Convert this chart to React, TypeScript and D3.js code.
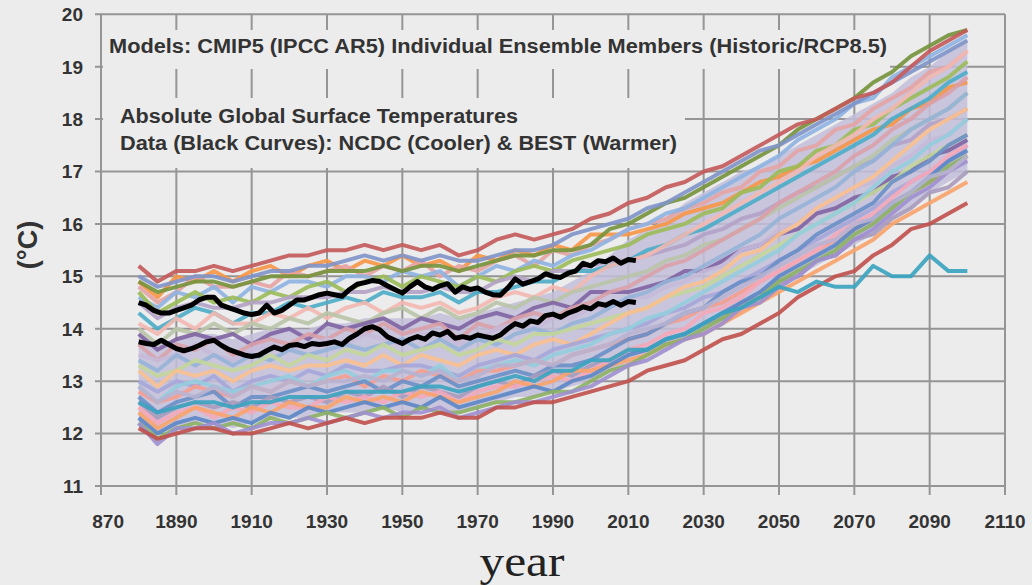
import React from "react";
import * as d3 from "d3";

// years of the model runs (historic + RCP8.5), 5-year steps
const modelYears = [1880, 1885, 1890, 1895, 1900, 1905, 1910, 1915, 1920, 1925, 1930, 1935, 1940, 1945, 1950, 1955, 1960, 1965, 1970, 1975, 1980, 1985, 1990, 1995, 2000, 2005, 2010, 2015, 2020, 2025, 2030, 2035, 2040, 2045, 2050, 2055, 2060, 2065, 2070, 2075, 2080, 2085, 2090, 2095, 2100];

// years of the observed data (2-year steps)
const obsYears = [1880, 1882, 1884, 1886, 1888, 1890, 1892, 1894, 1896, 1898, 1900, 1902, 1904, 1906, 1908, 1910, 1912, 1914, 1916, 1918, 1920, 1922, 1924, 1926, 1928, 1930, 1932, 1934, 1936, 1938, 1940, 1942, 1944, 1946, 1948, 1950, 1952, 1954, 1956, 1958, 1960, 1962, 1964, 1966, 1968, 1970, 1972, 1974, 1976, 1978, 1980, 1982, 1984, 1986, 1988, 1990, 1992, 1994, 1996, 1998, 2000, 2002, 2004, 2006, 2008, 2010, 2012];

const best = [14.5, 14.45, 14.35, 14.3, 14.3, 14.35, 14.4, 14.45, 14.55, 14.6, 14.6, 14.45, 14.4, 14.35, 14.3, 14.27, 14.3, 14.45, 14.3, 14.35, 14.45, 14.55, 14.55, 14.6, 14.65, 14.68, 14.65, 14.62, 14.75, 14.85, 14.88, 14.92, 14.9, 14.82, 14.75, 14.68, 14.8, 14.9, 14.8, 14.75, 14.82, 14.86, 14.7, 14.8, 14.75, 14.78, 14.7, 14.65, 14.64, 14.78, 14.95, 14.85, 14.9, 14.95, 15.05, 15.0, 14.98, 15.06, 15.1, 15.25, 15.2, 15.3, 15.28, 15.35, 15.25, 15.32, 15.3];
const ncdc = [13.75, 13.72, 13.7, 13.78, 13.7, 13.62, 13.58, 13.62, 13.68, 13.75, 13.78, 13.68, 13.6, 13.55, 13.5, 13.47, 13.5, 13.58, 13.65, 13.6, 13.68, 13.7, 13.66, 13.72, 13.7, 13.72, 13.75, 13.7, 13.82, 13.9, 14.0, 14.04, 13.98, 13.85, 13.78, 13.72, 13.8, 13.85, 13.8, 13.92, 13.88, 13.95, 13.82, 13.85, 13.82, 13.88, 13.85, 13.82, 13.88, 14.0, 14.1, 14.05, 14.15, 14.12, 14.25, 14.28, 14.22, 14.3, 14.35, 14.42, 14.38, 14.48, 14.45, 14.52, 14.45, 14.52, 14.5];

// dense part of the ensemble (pale backdrop)
const bandLow = [12.2, 12.0, 12.1, 12.2, 12.2, 12.1, 12.2, 12.3, 12.3, 12.3, 12.4, 12.4, 12.4, 12.5, 12.4, 12.5, 12.5, 12.4, 12.5, 12.6, 12.7, 12.7, 12.8, 12.9, 13.0, 13.2, 13.3, 13.5, 13.6, 13.8, 13.9, 14.1, 14.3, 14.5, 14.7, 15.0, 15.2, 15.4, 15.6, 15.8, 16.1, 16.3, 16.6, 16.8, 17.0];
const bandHigh = [13.9, 13.7, 13.8, 13.9, 13.9, 13.8, 13.9, 14.0, 14.0, 14.0, 14.1, 14.1, 14.2, 14.2, 14.2, 14.2, 14.3, 14.2, 14.3, 14.4, 14.5, 14.6, 14.7, 14.9, 15.1, 15.4, 15.7, 15.9, 16.1, 16.4, 16.6, 16.8, 17.0, 17.1, 17.3, 17.5, 17.7, 17.9, 18.1, 18.3, 18.5, 18.8, 19.0, 19.3, 19.5];

// individual ensemble members
const m03 = [14.9, 14.6, 15.0, 14.9, 15.1, 14.9, 15.1, 15.2, 15.0, 15.2, 15.3, 15.1, 15.3, 15.2, 15.4, 15.2, 15.3, 15.1, 15.4, 15.3, 15.5, 15.4, 15.6, 15.5, 15.8, 15.8, 15.8, 15.9, 16.0, 16.2, 16.3, 16.4, 16.6, 16.8, 16.9, 17.1, 17.2, 17.4, 17.6, 17.8, 17.9, 18.2, 18.3, 18.6, 18.7];
const m04 = [14.8, 14.5, 14.7, 15.0, 14.8, 14.8, 14.9, 14.8, 15.1, 15.0, 15.1, 15.2, 15.0, 15.2, 15.1, 15.3, 15.0, 15.2, 15.1, 15.3, 15.4, 15.2, 15.5, 15.4, 15.6, 15.7, 15.9, 16.0, 16.1, 16.3, 16.4, 16.6, 16.7, 17.0, 17.1, 17.4, 17.5, 17.8, 17.9, 18.2, 18.4, 18.6, 18.9, 19.0, 19.3];
const m05 = [14.6, 14.4, 14.7, 14.6, 14.8, 14.5, 14.8, 14.7, 14.9, 14.9, 14.8, 15.0, 15.0, 14.9, 15.1, 15.0, 15.1, 14.8, 15.0, 15.2, 15.1, 15.3, 15.2, 15.4, 15.5, 15.7, 15.9, 16.0, 16.2, 16.3, 16.5, 16.7, 16.9, 17.1, 17.3, 17.6, 17.8, 18.0, 18.3, 18.4, 18.8, 19.0, 19.2, 19.4, 19.6];
const m06 = [14.7, 14.3, 14.5, 14.7, 14.5, 14.6, 14.5, 14.7, 14.6, 14.8, 14.9, 14.7, 14.9, 15.0, 14.8, 15.0, 14.9, 14.8, 15.0, 14.9, 15.1, 15.2, 15.1, 15.3, 15.4, 15.5, 15.6, 15.8, 15.9, 16.0, 16.2, 16.3, 16.6, 16.7, 17.0, 17.1, 17.4, 17.5, 17.8, 17.9, 18.2, 18.4, 18.6, 18.8, 19.1];
const m07 = [14.5, 14.2, 14.4, 14.5, 14.4, 14.4, 14.5, 14.5, 14.6, 14.6, 14.6, 14.7, 14.7, 14.8, 14.7, 14.7, 14.8, 14.7, 14.7, 14.9, 15.0, 14.9, 15.1, 15.1, 15.2, 15.3, 15.3, 15.4, 15.5, 15.6, 15.8, 15.9, 16.1, 16.2, 16.4, 16.6, 16.7, 16.9, 17.1, 17.2, 17.5, 17.6, 17.9, 18.0, 18.2];
const m08 = [14.3, 14.0, 14.2, 14.4, 14.3, 14.1, 14.3, 14.3, 14.5, 14.4, 14.5, 14.6, 14.5, 14.7, 14.6, 14.6, 14.7, 14.5, 14.7, 14.7, 14.8, 14.9, 14.9, 15.1, 15.1, 15.2, 15.3, 15.5, 15.6, 15.8, 15.9, 16.1, 16.3, 16.5, 16.7, 16.9, 17.1, 17.3, 17.5, 17.7, 18.0, 18.2, 18.4, 18.7, 18.9];
const m09 = [14.1, 13.9, 14.2, 14.0, 14.3, 14.1, 14.1, 14.3, 14.2, 14.4, 14.2, 14.4, 14.5, 14.3, 14.5, 14.4, 14.5, 14.3, 14.4, 14.6, 14.7, 14.6, 14.8, 14.7, 15.0, 15.2, 15.3, 15.4, 15.6, 15.8, 16.0, 16.2, 16.4, 16.6, 16.8, 17.0, 17.3, 17.5, 17.7, 18.0, 18.2, 18.5, 18.8, 19.0, 19.3];
const m10 = [14.0, 13.7, 14.0, 13.9, 14.1, 13.9, 14.1, 14.0, 14.2, 14.1, 14.3, 14.2, 14.1, 14.3, 14.4, 14.2, 14.4, 14.2, 14.3, 14.5, 14.4, 14.6, 14.5, 14.7, 14.8, 14.9, 15.0, 15.1, 15.3, 15.4, 15.6, 15.7, 15.9, 16.1, 16.3, 16.5, 16.7, 16.9, 17.1, 17.3, 17.6, 17.8, 18.0, 18.2, 18.5];
const m11 = [13.9, 13.6, 13.8, 13.9, 13.8, 13.9, 13.7, 13.9, 14.0, 13.8, 14.1, 14.0, 14.1, 14.2, 14.0, 14.2, 14.1, 14.0, 14.2, 14.3, 14.2, 14.4, 14.5, 14.4, 14.7, 14.7, 14.7, 14.8, 14.9, 15.1, 15.1, 15.3, 15.5, 15.6, 15.8, 15.9, 16.2, 16.3, 16.5, 16.6, 16.9, 17.0, 17.3, 17.4, 17.6];
const m12 = [13.7, 13.4, 13.7, 13.6, 13.8, 13.5, 13.7, 13.8, 13.7, 13.9, 13.8, 14.0, 13.9, 14.1, 13.9, 14.0, 14.1, 13.8, 14.1, 14.0, 14.2, 14.3, 14.2, 14.4, 14.5, 14.7, 14.8, 15.0, 15.2, 15.3, 15.5, 15.7, 15.9, 16.1, 16.4, 16.6, 16.8, 17.0, 17.3, 17.5, 17.8, 18.0, 18.3, 18.5, 18.8];
const m13 = [13.5, 13.4, 13.5, 13.7, 13.5, 13.4, 13.6, 13.7, 13.6, 13.7, 13.8, 13.7, 13.9, 13.8, 13.7, 13.9, 13.9, 13.7, 13.8, 14.0, 14.1, 14.0, 14.2, 14.2, 14.4, 14.4, 14.6, 14.6, 14.8, 14.9, 15.1, 15.2, 15.5, 15.6, 15.9, 16.0, 16.3, 16.4, 16.7, 16.8, 17.1, 17.3, 17.6, 17.7, 18.0];
const m14 = [13.4, 13.2, 13.5, 13.3, 13.5, 13.3, 13.5, 13.4, 13.6, 13.5, 13.6, 13.7, 13.6, 13.7, 13.8, 13.6, 13.8, 13.6, 13.8, 13.7, 13.9, 14.0, 13.9, 14.1, 14.2, 14.4, 14.6, 14.7, 14.9, 15.0, 15.2, 15.4, 15.6, 15.8, 16.1, 16.3, 16.5, 16.7, 17.0, 17.2, 17.5, 17.8, 18.0, 18.2, 18.5];
const m15 = [13.3, 13.1, 13.2, 13.4, 13.3, 13.2, 13.3, 13.5, 13.3, 13.5, 13.4, 13.6, 13.5, 13.7, 13.5, 13.6, 13.7, 13.5, 13.6, 13.8, 13.7, 13.9, 13.9, 14.0, 14.1, 14.2, 14.3, 14.4, 14.6, 14.7, 14.8, 15.0, 15.2, 15.4, 15.6, 15.8, 16.0, 16.2, 16.4, 16.6, 16.8, 17.1, 17.3, 17.5, 17.7];
const m16 = [13.2, 12.9, 13.2, 13.1, 13.2, 13.0, 13.2, 13.3, 13.2, 13.3, 13.3, 13.4, 13.3, 13.5, 13.3, 13.5, 13.4, 13.3, 13.5, 13.6, 13.5, 13.7, 13.8, 13.7, 13.9, 14.1, 14.3, 14.4, 14.6, 14.8, 14.9, 15.1, 15.4, 15.5, 15.8, 16.0, 16.3, 16.5, 16.7, 16.9, 17.2, 17.5, 17.8, 18.0, 18.2];
const m17 = [13.0, 12.8, 13.0, 12.9, 13.1, 12.8, 13.0, 13.1, 13.0, 13.2, 13.1, 13.3, 13.2, 13.2, 13.3, 13.3, 13.2, 13.1, 13.3, 13.4, 13.5, 13.4, 13.6, 13.7, 13.8, 13.9, 14.0, 14.1, 14.3, 14.4, 14.6, 14.7, 14.9, 15.1, 15.3, 15.5, 15.7, 15.9, 16.1, 16.3, 16.6, 16.8, 17.0, 17.2, 17.5];
const m18 = [12.9, 12.6, 12.9, 13.0, 12.9, 12.8, 12.9, 13.0, 13.1, 12.9, 13.1, 13.2, 13.0, 13.2, 13.2, 13.1, 13.3, 13.0, 13.2, 13.3, 13.4, 13.3, 13.5, 13.6, 13.7, 13.9, 14.0, 14.2, 14.3, 14.5, 14.7, 14.9, 15.1, 15.3, 15.5, 15.8, 16.0, 16.2, 16.4, 16.7, 17.0, 17.2, 17.5, 17.7, 18.0];
const m19 = [12.8, 12.6, 12.7, 12.9, 12.8, 12.7, 12.9, 12.8, 13.0, 12.9, 13.0, 13.1, 12.9, 13.1, 13.0, 13.2, 13.1, 13.0, 13.2, 13.2, 13.3, 13.4, 13.3, 13.5, 13.6, 13.7, 13.8, 13.9, 14.1, 14.2, 14.4, 14.5, 14.7, 14.9, 15.1, 15.3, 15.5, 15.7, 15.9, 16.1, 16.4, 16.6, 16.8, 17.0, 17.3];
const m20 = [12.7, 12.4, 12.6, 12.7, 12.8, 12.5, 12.7, 12.7, 12.8, 12.9, 12.8, 12.9, 13.0, 12.8, 13.0, 12.9, 13.1, 12.9, 13.0, 13.1, 13.2, 13.1, 13.3, 13.3, 13.4, 13.6, 13.8, 13.9, 14.1, 14.3, 14.4, 14.7, 14.9, 15.0, 15.3, 15.5, 15.8, 16.0, 16.2, 16.4, 16.8, 17.0, 17.2, 17.5, 17.7];
const m21 = [12.6, 12.3, 12.5, 12.6, 12.5, 12.6, 12.5, 12.7, 12.6, 12.7, 12.6, 12.8, 12.7, 12.9, 12.7, 12.9, 12.8, 12.7, 12.9, 13.0, 12.9, 13.1, 13.2, 13.1, 13.3, 13.4, 13.6, 13.6, 13.8, 13.9, 14.1, 14.2, 14.5, 14.6, 14.9, 15.0, 15.3, 15.4, 15.7, 15.8, 16.1, 16.3, 16.6, 16.7, 17.0];
const m22 = [12.5, 12.2, 12.4, 12.5, 12.3, 12.5, 12.4, 12.6, 12.5, 12.5, 12.7, 12.6, 12.7, 12.6, 12.8, 12.7, 12.8, 12.6, 12.8, 12.9, 12.9, 13.0, 13.1, 13.0, 13.2, 13.4, 13.6, 13.7, 13.9, 14.0, 14.3, 14.4, 14.6, 14.9, 15.1, 15.3, 15.5, 15.8, 16.0, 16.2, 16.5, 16.8, 17.0, 17.3, 17.5];
const m23 = [12.4, 12.1, 12.3, 12.5, 12.4, 12.3, 12.5, 12.4, 12.6, 12.5, 12.5, 12.7, 12.6, 12.7, 12.6, 12.8, 12.7, 12.6, 12.7, 12.8, 13.0, 12.9, 13.0, 13.2, 13.2, 13.3, 13.4, 13.5, 13.7, 13.8, 13.9, 14.1, 14.3, 14.5, 14.7, 14.9, 15.1, 15.3, 15.5, 15.7, 16.0, 16.2, 16.4, 16.6, 16.8];
const m24 = [12.3, 12.0, 12.2, 12.3, 12.2, 12.3, 12.2, 12.4, 12.3, 12.5, 12.4, 12.5, 12.6, 12.5, 12.6, 12.5, 12.7, 12.5, 12.6, 12.7, 12.8, 12.9, 12.8, 13.0, 13.1, 13.3, 13.5, 13.6, 13.8, 13.9, 14.1, 14.3, 14.5, 14.7, 15.0, 15.2, 15.4, 15.6, 15.9, 16.1, 16.4, 16.6, 16.9, 17.2, 17.4];
const m25 = [12.2, 11.9, 12.1, 12.2, 12.1, 12.2, 12.1, 12.3, 12.2, 12.3, 12.4, 12.3, 12.4, 12.5, 12.3, 12.5, 12.4, 12.4, 12.5, 12.6, 12.6, 12.7, 12.8, 12.8, 13.0, 13.2, 13.3, 13.5, 13.7, 13.8, 14.0, 14.2, 14.4, 14.6, 14.9, 15.1, 15.3, 15.5, 15.8, 16.0, 16.3, 16.6, 16.8, 17.1, 17.3];
const m26 = [12.2, 11.8, 12.1, 12.1, 12.2, 12.0, 12.1, 12.2, 12.2, 12.3, 12.2, 12.3, 12.4, 12.3, 12.4, 12.4, 12.5, 12.3, 12.4, 12.5, 12.6, 12.6, 12.7, 12.8, 12.9, 13.1, 13.3, 13.4, 13.6, 13.8, 13.9, 14.1, 14.4, 14.5, 14.8, 15.0, 15.3, 15.4, 15.7, 15.9, 16.2, 16.5, 16.7, 17.0, 17.2];
const m29 = [14.9, 14.7, 14.8, 14.9, 14.9, 14.8, 14.9, 15.0, 15.0, 15.0, 15.1, 15.1, 15.1, 15.2, 15.1, 15.2, 15.2, 15.1, 15.2, 15.3, 15.4, 15.4, 15.5, 15.5, 15.6, 15.9, 16.0, 16.2, 16.4, 16.5, 16.7, 16.9, 17.1, 17.3, 17.5, 17.8, 18.0, 18.2, 18.4, 18.7, 18.9, 19.2, 19.4, 19.6, 19.7];
const m30 = [12.9, 12.6, 12.8, 12.7, 12.9, 12.7, 12.9, 12.8, 13.0, 12.9, 13.0, 13.0, 13.1, 13.0, 13.2, 13.1, 13.2, 13.0, 13.1, 13.3, 13.3, 13.4, 13.3, 13.5, 13.6, 13.7, 13.9, 14.0, 14.1, 14.3, 14.4, 14.6, 14.8, 15.0, 15.2, 15.4, 15.6, 15.7, 16.0, 16.1, 16.4, 16.6, 16.9, 17.0, 17.3];
// the members that stand out at the edges
const m01 = [15.2, 14.9, 15.1, 15.1, 15.2, 15.1, 15.2, 15.3, 15.4, 15.4, 15.5, 15.5, 15.6, 15.5, 15.6, 15.5, 15.6, 15.4, 15.5, 15.7, 15.8, 15.7, 15.8, 15.9, 16.1, 16.2, 16.4, 16.5, 16.7, 16.8, 17.0, 17.1, 17.3, 17.5, 17.7, 17.9, 18.0, 18.2, 18.4, 18.5, 18.7, 19.0, 19.3, 19.5, 19.7];
const m02 = [15.0, 14.8, 14.9, 15.0, 15.0, 14.9, 15.0, 15.1, 15.1, 15.2, 15.2, 15.3, 15.4, 15.3, 15.4, 15.3, 15.4, 15.3, 15.3, 15.4, 15.5, 15.5, 15.6, 15.8, 15.9, 16.0, 16.1, 16.3, 16.4, 16.6, 16.8, 17.0, 17.2, 17.4, 17.5, 17.7, 17.9, 18.1, 18.3, 18.5, 18.7, 18.9, 19.1, 19.3, 19.5];
const m27 = [12.1, 11.9, 12.0, 12.1, 12.1, 12.0, 12.0, 12.1, 12.2, 12.1, 12.2, 12.3, 12.2, 12.3, 12.3, 12.3, 12.4, 12.3, 12.3, 12.5, 12.5, 12.6, 12.6, 12.7, 12.8, 12.9, 13.0, 13.2, 13.3, 13.4, 13.6, 13.8, 13.9, 14.1, 14.3, 14.6, 14.8, 15.0, 15.1, 15.4, 15.6, 15.9, 16.0, 16.2, 16.4];
const m28 = [12.6, 12.4, 12.5, 12.6, 12.6, 12.5, 12.6, 12.6, 12.7, 12.7, 12.7, 12.8, 12.8, 12.8, 12.8, 12.9, 12.9, 12.8, 12.9, 13.0, 13.1, 13.0, 13.2, 13.2, 13.4, 13.4, 13.6, 13.6, 13.8, 13.9, 14.1, 14.3, 14.4, 14.6, 14.8, 14.7, 14.9, 14.8, 14.8, 15.2, 15.0, 15.0, 15.4, 15.1, 15.1];

const members = [m03, m04, m05, m06, m07, m08, m09, m10, m11, m12, m13, m14, m15, m16, m17, m18, m19, m20, m21, m22, m23, m24, m25, m26, m29, m30, m02, m27, m28, m01];
const memberColors = ["#f79646", "#e6a3a3", "#8db3e2", "#9bbb59", "#b3a2c7", "#4bacc6", "#f2b8b0", "#b9c4a8", "#8064a2", "#d9a0a8", "#c5b9d8", "#95b3d7", "#c3d69b", "#fac090", "#a6a6d9", "#93cddd", "#f59d8f", "#6a8fc7", "#a99bbd", "#f4a7b9", "#f8a36b", "#5b86c5", "#8cb063", "#9f8fcf", "#76923c", "#b7b3d1", "#7f93c9", "#c0504d", "#3aa3bf", "#c4595a"];

const yTicks = [11, 12, 13, 14, 15, 16, 17, 18, 19, 20];
const xTicks = [1870, 1890, 1910, 1930, 1950, 1970, 1990, 2010, 2030, 2050, 2070, 2090, 2110];
const xTickLabels = ["870", "1890", "1910", "1930", "1950", "1970", "1990", "2010", "2030", "2050", "2070", "2090", "2110"];

const titleLines = [
  "Models: CMIP5 (IPCC AR5) Individual Ensemble Members (Historic/RCP8.5)",
  "Absolute Global Surface Temperatures",
  "Data (Black Curves): NCDC (Cooler) & BEST (Warmer)",
];

const W = 1032;
const H = 585;
const BG = "#ececec";
const GRID = "#959595";

export default function App() {
  const x = d3.scaleLinear().domain([1870, 2110]).range([101, 1005]);
  const y = d3.scaleLinear().domain([11, 20]).range([486, 14.3]);

  const modelLine = d3
    .line<number>()
    .x((d, i) => x(modelYears[i]))
    .y((d) => y(d));
  const obsLine = d3
    .line<number>()
    .x((d, i) => x(obsYears[i]))
    .y((d) => y(d));
  const band = d3
    .area<number>()
    .x((d, i) => x(modelYears[i]))
    .y0((d, i) => y(bandLow[i]))
    .y1((d) => y(d));

  const font = "'Liberation Sans', Arial, sans-serif";

  return (
    <div style={{ position: "absolute", left: 0, top: 0 }}>
      <svg width={W} height={H} style={{ display: "block" }}>
        <rect width={W} height={H} fill={BG} />

        {/* grid */}
        {yTicks.map((t) => (
          <line key={"h" + t} x1={95} x2={x(2110)} y1={y(t)} y2={y(t)} stroke={GRID} strokeWidth={2} />
        ))}
        {xTicks.map((t) => (
          <line key={"v" + t} x1={x(t)} x2={x(t)} y1={y(20)} y2={495} stroke={GRID} strokeWidth={2} />
        ))}

        {/* text boxes hide the grid behind the annotations */}
        <rect x={103} y={30} width={787} height={39} fill={BG} />
        <rect x={103} y={98} width={582} height={70} fill={BG} />

        {/* ensemble */}
        <path d={band(bandHigh) || ""} fill="#c3bedb" opacity={0.85} />
        {members.map((m, i) => (
          <path
            key={i}
            d={modelLine(m) || ""}
            fill="none"
            stroke={memberColors[i]}
            strokeWidth={4}
            strokeLinejoin="round"
            opacity={0.9}
          />
        ))}

        {/* observations */}
        <path d={obsLine(best) || ""} fill="none" stroke="#000" strokeWidth={5} strokeLinejoin="round" />
        <path d={obsLine(ncdc) || ""} fill="none" stroke="#000" strokeWidth={5} strokeLinejoin="round" />

        {/* tick labels */}
        {yTicks.map((t) => (
          <text
            key={"yl" + t}
            x={83}
            y={y(t)}
            dy="0.36em"
            textAnchor="end"
            fontFamily={font}
            fontWeight="bold"
            fontSize={19}
            fill="#333"
          >
            {t}
          </text>
        ))}
        {xTicks.map((t, i) => (
          <text
            key={"xl" + t}
            x={i === 0 ? x(t) + 23 : x(t)}
            y={528}
            textAnchor={i === 0 ? "end" : "middle"}
            fontFamily={font}
            fontWeight="bold"
            fontSize={19}
            fill="#333"
          >
            {xTickLabels[i]}
          </text>
        ))}

        <text
          transform="translate(37,245) rotate(-90)"
          textAnchor="middle"
          fontFamily={font}
          fontWeight="bold"
          fontSize={27}
          fill="#333"
        >
          (°C)
        </text>
        <text
          x={522}
          y={576}
          textAnchor="middle"
          fontFamily="'Liberation Serif', 'Times New Roman', serif"
          fontSize={44}
          textLength={85}
          lengthAdjust="spacingAndGlyphs"
          fill="#222"
        >
          year
        </text>

        {/* annotations */}
        <text x={109} y={53} fontFamily={font} fontWeight="bold" fontSize={20} textLength={778} lengthAdjust="spacingAndGlyphs" fill="#333">
          {titleLines[0]}
        </text>
        <text x={120} y={123} fontFamily={font} fontWeight="bold" fontSize={20} textLength={398} lengthAdjust="spacingAndGlyphs" fill="#333">
          {titleLines[1]}
        </text>
        <text x={120} y={150} fontFamily={font} fontWeight="bold" fontSize={20} textLength={557} lengthAdjust="spacingAndGlyphs" fill="#333">
          {titleLines[2]}
        </text>
      </svg>
    </div>
  );
}
